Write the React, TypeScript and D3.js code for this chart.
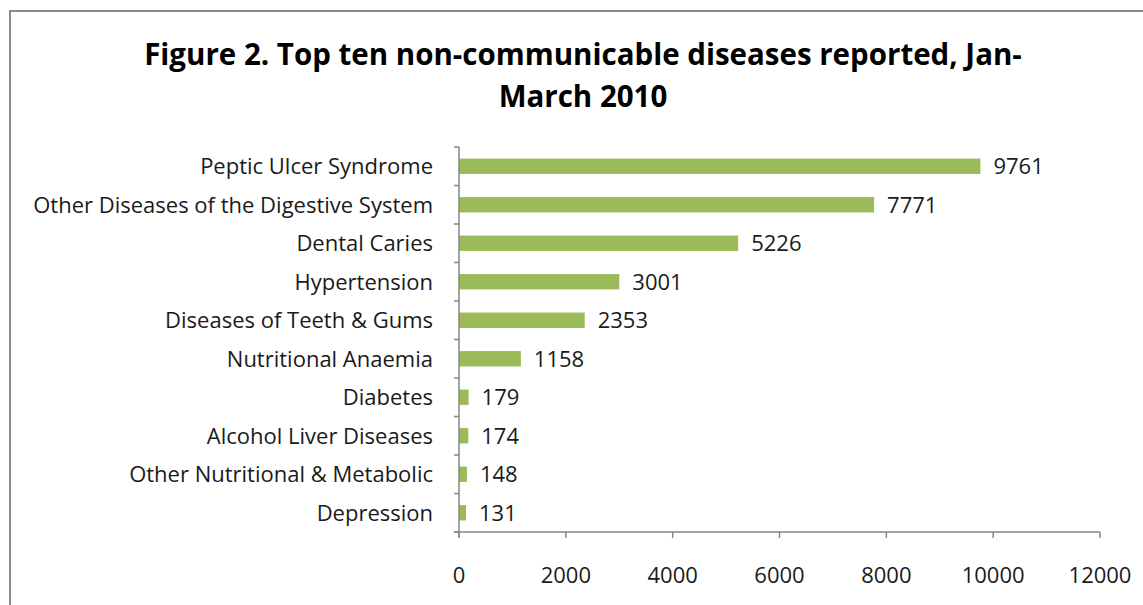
import React from "react";
import * as d3 from "d3";

const categories = [
  "Peptic Ulcer Syndrome",
  "Other Diseases of the Digestive System",
  "Dental Caries",
  "Hypertension",
  "Diseases of Teeth & Gums",
  "Nutritional Anaemia",
  "Diabetes",
  "Alcohol Liver Diseases",
  "Other Nutritional & Metabolic",
  "Depression",
];
const values = [9761, 7771, 5226, 3001, 2353, 1158, 179, 174, 148, 131];
const xTicks = [0, 2000, 4000, 6000, 8000, 10000, 12000];
const titleLines = ["Figure 2. Top ten non-communicable diseases reported, Jan-", "March 2010"];

const W = 1143;
const H = 605;
const FONT = "'Open Sans', sans-serif";

export default function App() {
  const x = d3.scaleLinear().domain([0, 12000]).range([459, 1100]);
  const y = d3.scaleBand<string>().domain(categories).range([147, 532]).paddingInner(0.6).paddingOuter(0.3);
  const axisColor = "#868686";
  const bands = d3.scaleBand<string>().domain(categories).range([147, 532]);

  return (
    <div style={{ position: "absolute", left: 0, top: 0 }}>
      <svg width={W} height={H} style={{ display: "block", background: "#fff" }}>
        <rect x={10} y={11} width={W + 10} height={H + 10} fill="#fff" stroke="#8c8c8c" strokeWidth={2} />
        {titleLines.map((t, i) => (
          <text
            key={i}
            x={583}
            y={65 + i * 42}
            textAnchor="middle"
            fontFamily={FONT}
            fontWeight={700}
            fontSize={29.5}
            fill="#000"
          >
            {t}
          </text>
        ))}
        {categories.map((c, i) => (
          <g key={c}>
            <rect x={x(0)} y={y(c)!} width={x(values[i]) - x(0)} height={y.bandwidth()} fill="#9BBB59" />
            <text
              x={x(values[i]) + 13}
              y={y(c)! + y.bandwidth() / 2}
              dy="0.36em"
              fontFamily={FONT}
              fontSize={22}
              fill="#1a1a1a"
            >
              {values[i]}
            </text>
            <text
              x={433}
              y={bands(c)! + bands.bandwidth() / 2}
              dy="0.36em"
              textAnchor="end"
              fontFamily={FONT}
              fontSize={22}
              fill="#1a1a1a"
            >
              {c}
            </text>
          </g>
        ))}
        {/* value axis (vertical) with category ticks */}
        <line x1={x(0)} x2={x(0)} y1={147} y2={537} stroke={axisColor} strokeWidth={1.5} />
        {d3.range(categories.length + 1).map((i) => {
          const yy = 147 + i * bands.step();
          return <line key={i} x1={x(0) - 5} x2={x(0)} y1={yy} y2={yy} stroke={axisColor} strokeWidth={1.5} />;
        })}
        {/* horizontal value axis */}
        <line x1={x(0) - 5} x2={x(12000)} y1={532} y2={532} stroke={axisColor} strokeWidth={1.5} />
        {xTicks.map((t) => (
          <g key={t}>
            <line x1={x(t)} x2={x(t)} y1={532} y2={538} stroke={axisColor} strokeWidth={1.5} />
            <text x={x(t)} y={583} textAnchor="middle" fontFamily={FONT} fontSize={22} fill="#1a1a1a">
              {t}
            </text>
          </g>
        ))}
      </svg>
    </div>
  );
}
